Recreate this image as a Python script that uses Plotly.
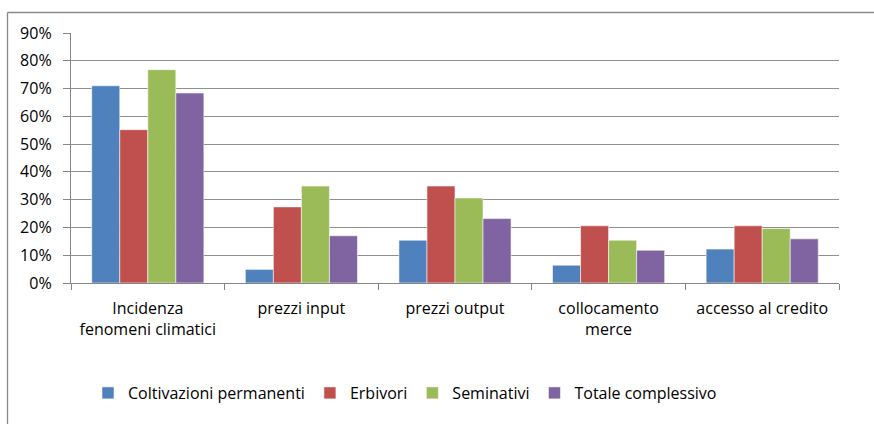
import plotly.graph_objects as go

categories = [
    "Incidenza<br>fenomeni climatici",
    "prezzi input",
    "prezzi output",
    "collocamento<br>merce",
    "accesso al credito",
]
coltivazioni_permanenti = [0.710, 0.049, 0.154, 0.064, 0.122]
erbivori = [0.552, 0.274, 0.349, 0.206, 0.206]
seminativi = [0.768, 0.349, 0.306, 0.154, 0.196]
totale_complessivo = [0.684, 0.170, 0.232, 0.118, 0.159]

series = [
    ("Coltivazioni permanenti", coltivazioni_permanenti, "#4F81BD"),
    ("Erbivori", erbivori, "#C0504D"),
    ("Seminativi", seminativi, "#9BBB59"),
    ("Totale complessivo", totale_complessivo, "#8064A2"),
]

FONT = "Open Sans"
FS = 16
W, H = 874, 424
ML, MR, MT, MB = 71, 35, 33, 141
PW = W - ML - MR
PH = H - MT - MB

fig = go.Figure()
for name, vals, color in series:
    fig.add_trace(go.Bar(
        x=categories, y=vals, name=name,
        marker=dict(color=color, line=dict(color="rgba(255,255,255,0.55)", width=1)),
    ))

# chart frame (top and left edges)
def px_x(p):
    return (p - ML) / PW

def px_y(p):
    return (H - MB - p) / PH

frame = dict(color="#8a8a8a", width=1.3)
fig.add_shape(type="line", xref="paper", yref="paper",
              x0=px_x(7.5), x1=px_x(W + 5), y0=px_y(12.5), y1=px_y(12.5), line=frame)
fig.add_shape(type="line", xref="paper", yref="paper",
              x0=px_x(7.5), x1=px_x(7.5), y0=px_y(12.5), y1=px_y(H + 5), line=frame)

fig.update_layout(
    width=W, height=H,
    margin=dict(l=ML, r=MR, t=MT, b=MB),
    paper_bgcolor="white", plot_bgcolor="white",
    barmode="group", bargap=0.27, bargroupgap=0,
    font=dict(family=FONT, size=FS, color="#000000"),
    showlegend=True,
    legend=dict(orientation="h", x=px_x(405), xanchor="center", y=px_y(393), yanchor="middle",
                font=dict(family=FONT, size=FS), itemwidth=30, traceorder="normal"),
    xaxis=dict(
        type="category", showgrid=False, showline=True, linecolor="#868686", linewidth=1.3,
        ticks="outside", tickson="boundaries", ticklen=6, tickcolor="#868686", tickwidth=1.3,
        ticklabelstandoff=11,
        tickfont=dict(family=FONT, size=FS), fixedrange=True,
    ),
    yaxis=dict(
        range=[0, 0.9], dtick=0.1, tickformat=".0%",
        showgrid=True, gridcolor="#8f8f8f", gridwidth=1.3,
        showline=True, linecolor="#868686", linewidth=1.3,
        ticks="outside", ticklen=7, tickcolor="#868686", tickwidth=1.3,
        ticklabelstandoff=8, zeroline=False,
        tickfont=dict(family=FONT, size=FS), fixedrange=True,
    ),
)

fig.write_html("out.html")
